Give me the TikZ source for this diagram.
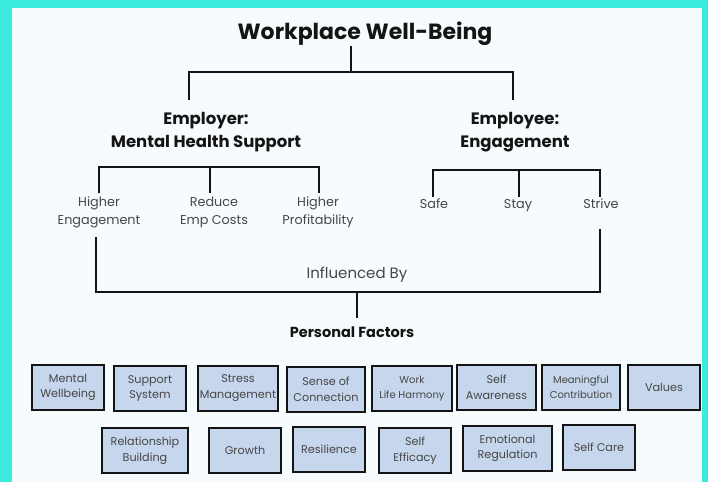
\documentclass[tikz,border=0pt]{standalone}
\usepackage{fontspec}
\setmainfont{Poppins}
\definecolor{frameteal}{RGB}{58,235,222}
\definecolor{paper}{RGB}{246,251,253}
\definecolor{boxfill}{RGB}{198,214,236}
\definecolor{ink}{RGB}{20,20,20}
\definecolor{softink}{RGB}{70,70,70}
\begin{document}
\begin{tikzpicture}[x=1pt,y=-1pt,
  bracket/.style={draw=ink,line width=2.6pt},
  heading/.style={font=\bfseries\fontsize{16.5}{23.5}\selectfont,text=ink,align=center,inner sep=0pt},
  label/.style={font=\fontsize{12.8}{18}\selectfont,text=softink,align=center,inner sep=0pt},
  factor/.style={draw=ink,line width=2pt,fill=boxfill,minimum height=45pt,inner sep=0pt,
    align=center,text=softink,font=\fontsize{11.2}{15.5}\selectfont}]
  % frame and page
  \fill[frameteal] (0,0) rectangle (708,482);
  \fill[paper] (12,8) rectangle (702,482);
  \useasboundingbox (0,0) rectangle (708,482);

  % headings
  \node[heading,font=\bfseries\fontsize{22}{26}\selectfont] (title) at (365,34) {Workplace Well-Being};
  \node[heading] (employer) at (206,132) {Employer:\\Mental Health Support};
  \node[heading] (employee) at (515,132) {Employee:\\Engagement};

  % top bracket
  \coordinate (t0) at (351,46);
  \coordinate (t1) at (351,72);
  \coordinate (bL) at (189,100);
  \coordinate (bR) at (513,100);
  \draw[bracket] (t0) -- (t1);
  \draw[bracket] (bL) |- (t1) -| (bR);

  % employer outcomes
  \node[label] (eng) at (99,212) {Higher\\Engagement};
  \node[label] (cost) at (214,212) {Reduce\\Emp Costs};
  \node[label] (prof) at (318,212) {Higher\\Profitability};
  \coordinate (aT) at (210,167);
  \coordinate (a1) at (99,193);
  \coordinate (a2) at (210,193);
  \coordinate (a3) at (319,193);
  \draw[bracket] (a1) |- (aT) -| (a3);
  \draw[bracket] (aT) -- (a2);

  % employee outcomes
  \node[label,anchor=base] (safe) at (434,208) {Safe};
  \node[label,anchor=base] (stay) at (518,208) {Stay};
  \node[label,anchor=base] (strive) at (601,208) {Strive};
  \coordinate (bT) at (519,170);
  \coordinate (b1) at (433,197);
  \coordinate (b2) at (519,197);
  \coordinate (b3) at (600,197);
  \draw[bracket] (b1) |- (bT) -| (b3);
  \draw[bracket] (bT) -- (b2);

  % influence bracket
  \node[label,font=\fontsize{15}{18}\selectfont] (infl) at (357,275) {Influenced By};
  \node[heading,font=\bfseries\fontsize{14.5}{18}\selectfont] (pf) at (352,332) {Personal Factors};
  \coordinate (c1) at (96,237);
  \coordinate (c3) at (600,229);
  \coordinate (cM) at (357,292);
  \coordinate (cB) at (357,318);
  \draw[bracket] (c1) |- (cM) -| (c3);
  \draw[bracket] (cM) -- (cB);

  % personal factors, first row
  \node[factor,minimum width=72pt] (f1) at (68,387.5) {Mental\\Wellbeing};
  \node[factor,minimum width=72pt] (f2) at (150,388.5) {Support\\System};
  \node[factor,minimum width=80pt] (f3) at (238,388) {Stress\\Management};
  \node[factor,minimum width=78pt] (f4) at (326,389.5) {Sense of\\Connection};
  \node[factor,minimum width=80pt,font=\fontsize{10}{14.5}\selectfont] (f5) at (412,388.5) {Work\\Life Harmony};
  \node[factor,minimum width=79pt] (f6) at (496.5,387.5) {Self\\Awareness};
  \node[factor,minimum width=78pt,font=\fontsize{10}{14.5}\selectfont] (f7) at (581,387) {Meaningful\\Contribution};
  \node[factor,minimum width=72pt] (f8) at (664,387) {Values};

  % personal factors, second row
  \node[factor,minimum width=86pt] (g1) at (145,450.5) {Relationship\\Building};
  \node[factor,minimum width=72pt] (g2) at (245,450) {Growth};
  \node[factor,minimum width=72pt] (g3) at (329,449.5) {Resilience};
  \node[factor,minimum width=72pt] (g4) at (415,450.5) {Self\\Efficacy};
  \node[factor,minimum width=89pt] (g5) at (507.5,448) {Emotional\\Regulation};
  \node[factor,minimum width=72pt] (g6) at (599,447) {Self Care};
\end{tikzpicture}
\end{document}
